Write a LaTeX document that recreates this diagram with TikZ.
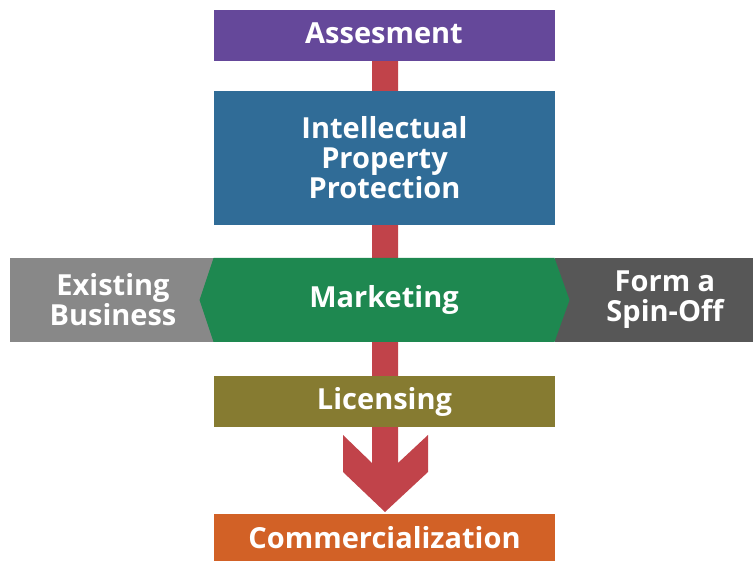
\documentclass[tikz,border=0pt]{standalone}
\usepackage{fontspec}
\setmainfont{Open Sans}
\usetikzlibrary{calc}
\definecolor{purp}{HTML}{65489A}
\definecolor{ipblue}{HTML}{306C97}
\definecolor{mgreen}{HTML}{1E8850}
\definecolor{lgray}{HTML}{888888}
\definecolor{dgray}{HTML}{575757}
\definecolor{olive}{HTML}{867B31}
\definecolor{orng}{HTML}{D26126}
\definecolor{arrowred}{HTML}{C1434A}
\begin{document}
\begin{tikzpicture}[x=1pt,y=-1pt,
  lbl/.style={text=white,font=\bfseries\fontsize{29}{30}\selectfont,align=center,inner sep=0pt},
  stepbox/.style={lbl,minimum width=341pt}]
\useasboundingbox (0,0) rectangle (753,561);
% side boxes
\node[lbl,fill=lgray,minimum width=204pt,minimum height=84pt] (exist) at (112,300) {};
\node[lbl,fill=dgray,minimum width=198pt,minimum height=84pt] (spin) at (654,300) {};
\node[lbl] (existT) at (113,300) {Existing\\Business};
\node[lbl] (spinT) at (665,300) {Form a\\Spin-Off};
% red connector with chevron head
\fill[arrowred] (372,60) -- (398,60) -- (398,463) -- (428,435) -- (428,472) -- (385,512) -- (343,472) -- (343,435) -- (372,463) -- cycle;
% main boxes
\node[stepbox,fill=purp,minimum height=51pt] (assess) at (384.5,35.5) {};
\node[lbl] (assessT) at (384,33) {Assesment};
\node[stepbox,fill=ipblue,minimum height=134pt] (ip) at (384.5,158) {Intellectual\\Property\\Protection};
\fill[mgreen] (199.5,300) -- (213.5,258) -- (554.5,258) -- (569.5,300) -- (554.5,342) -- (213.5,342) -- cycle;
\node[lbl] (market) at (384,300) {Marketing};
\node[stepbox,fill=olive,minimum height=51pt] (lic) at (384.5,401.5) {Licensing};
\node[stepbox,fill=orng,minimum height=47pt] (comm) at (384.5,537.5) {Commercialization};
\end{tikzpicture}
\end{document}
